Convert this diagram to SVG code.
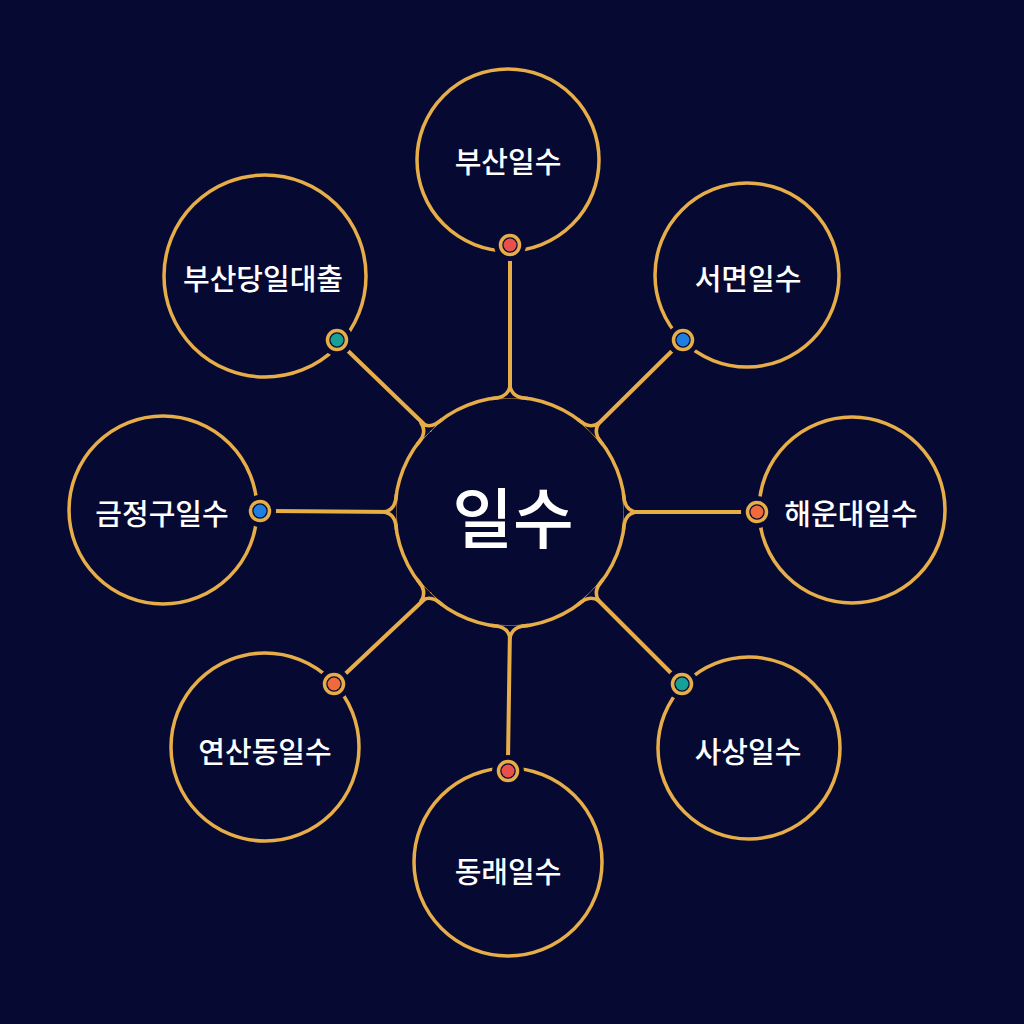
<svg xmlns="http://www.w3.org/2000/svg" width="1024" height="1024" viewBox="0 0 1024 1024">
<style>
.ring{fill:none;stroke:#e6ad48;stroke-width:3.5}
.conn{fill:none;stroke:#e6ad48;stroke-width:4;stroke-linecap:round}
.lbl{font-family:"Noto Sans CJK KR","Noto Sans",sans-serif;fill:#ffffff;font-size:29px;font-weight:500;text-anchor:middle;dominant-baseline:central}
.big{font-size:66px}
.gap{fill:#060a32}
.dring{fill:#060a32;stroke:#e6ad48;stroke-width:3.5}
</style>
<defs>
<g id="fillet">
<path d="M492,398.5 Q508,398 510,386 Q512,398 528,398.5" fill="#060a32" stroke="#e6ad48" stroke-width="3.5" stroke-linejoin="round"/>
</g>
</defs>
<rect width="1024" height="1024" fill="#060a32"/>
<g id="connectors">
<line class="conn" x1="510" y1="257" x2="510" y2="397"/>
<line class="conn" x1="675" y1="348" x2="592" y2="430"/>
<line class="conn" x1="745" y1="512" x2="625" y2="512"/>
<line class="conn" x1="674" y1="676" x2="592" y2="594"/>
<line class="conn" x1="508" y1="759" x2="510" y2="627"/>
<line class="conn" x1="343" y1="676" x2="430" y2="594"/>
<line class="conn" x1="272" y1="511" x2="395" y2="512"/>
<line class="conn" x1="346" y1="349" x2="430" y2="430"/>
</g>
<g id="center">
<circle class="ring" cx="510" cy="512" r="115"/>
<use href="#fillet"/>
<use href="#fillet" transform="rotate(45 510 512)"/>
<use href="#fillet" transform="rotate(90 510 512)"/>
<use href="#fillet" transform="rotate(135 510 512)"/>
<use href="#fillet" transform="rotate(180 510 512)"/>
<use href="#fillet" transform="rotate(225 510 512)"/>
<use href="#fillet" transform="rotate(270 510 512)"/>
<use href="#fillet" transform="rotate(315 510 512)"/>
<text class="lbl big" x="513" y="514">일수</text>
</g>
<g id="n-busan">
<circle class="ring" cx="508" cy="160" r="91"/>
<circle class="gap" cx="510" cy="245" r="16"/>
<circle class="dring" cx="510" cy="245" r="9.5"/>
<circle cx="510" cy="245" r="6.5" fill="#e8504c"/>
<text class="lbl" x="508" y="160">부산일수</text>
</g>
<g id="n-seomyeon">
<circle class="ring" cx="747" cy="275" r="92"/>
<circle class="gap" cx="683" cy="340" r="16"/>
<circle class="dring" cx="683" cy="340" r="9.5"/>
<circle cx="683" cy="340" r="6.5" fill="#1f7fe0"/>
<text class="lbl" x="748" y="277">서면일수</text>
</g>
<g id="n-haeundae">
<circle class="ring" cx="852" cy="510" r="93"/>
<circle class="gap" cx="757" cy="512" r="16"/>
<circle class="dring" cx="757" cy="512" r="9.5"/>
<circle cx="757" cy="512" r="6.5" fill="#f06a3c"/>
<text class="lbl" x="851" y="512">해운대일수</text>
</g>
<g id="n-sasang">
<circle class="ring" cx="749" cy="748" r="91"/>
<circle class="gap" cx="682" cy="684" r="16"/>
<circle class="dring" cx="682" cy="684" r="9.5"/>
<circle cx="682" cy="684" r="6.5" fill="#17a096"/>
<text class="lbl" x="748" y="750">사상일수</text>
</g>
<g id="n-dongnae">
<circle class="ring" cx="508" cy="862" r="94"/>
<circle class="gap" cx="508" cy="771" r="16"/>
<circle class="dring" cx="508" cy="771" r="9.5"/>
<circle cx="508" cy="771" r="6.5" fill="#e8504c"/>
<text class="lbl" x="508" y="870">동래일수</text>
</g>
<g id="n-yeonsan">
<circle class="ring" cx="265" cy="747" r="94"/>
<circle class="gap" cx="334" cy="684" r="16"/>
<circle class="dring" cx="334" cy="684" r="9.5"/>
<circle cx="334" cy="684" r="6.5" fill="#f06a3c"/>
<text class="lbl" x="265" y="750">연산동일수</text>
</g>
<g id="n-geumjeong">
<circle class="ring" cx="163" cy="510" r="94"/>
<circle class="gap" cx="260" cy="511" r="16"/>
<circle class="dring" cx="260" cy="511" r="9.5"/>
<circle cx="260" cy="511" r="6.5" fill="#1f7fe0"/>
<text class="lbl" x="162" y="512">금정구일수</text>
</g>
<g id="n-dangil">
<circle class="ring" cx="265" cy="276" r="101"/>
<circle class="gap" cx="337" cy="340" r="16"/>
<circle class="dring" cx="337" cy="340" r="9.5"/>
<circle cx="337" cy="340" r="6.5" fill="#17a096"/>
<text class="lbl" x="263" y="277">부산당일대출</text>
</g>
</svg>
